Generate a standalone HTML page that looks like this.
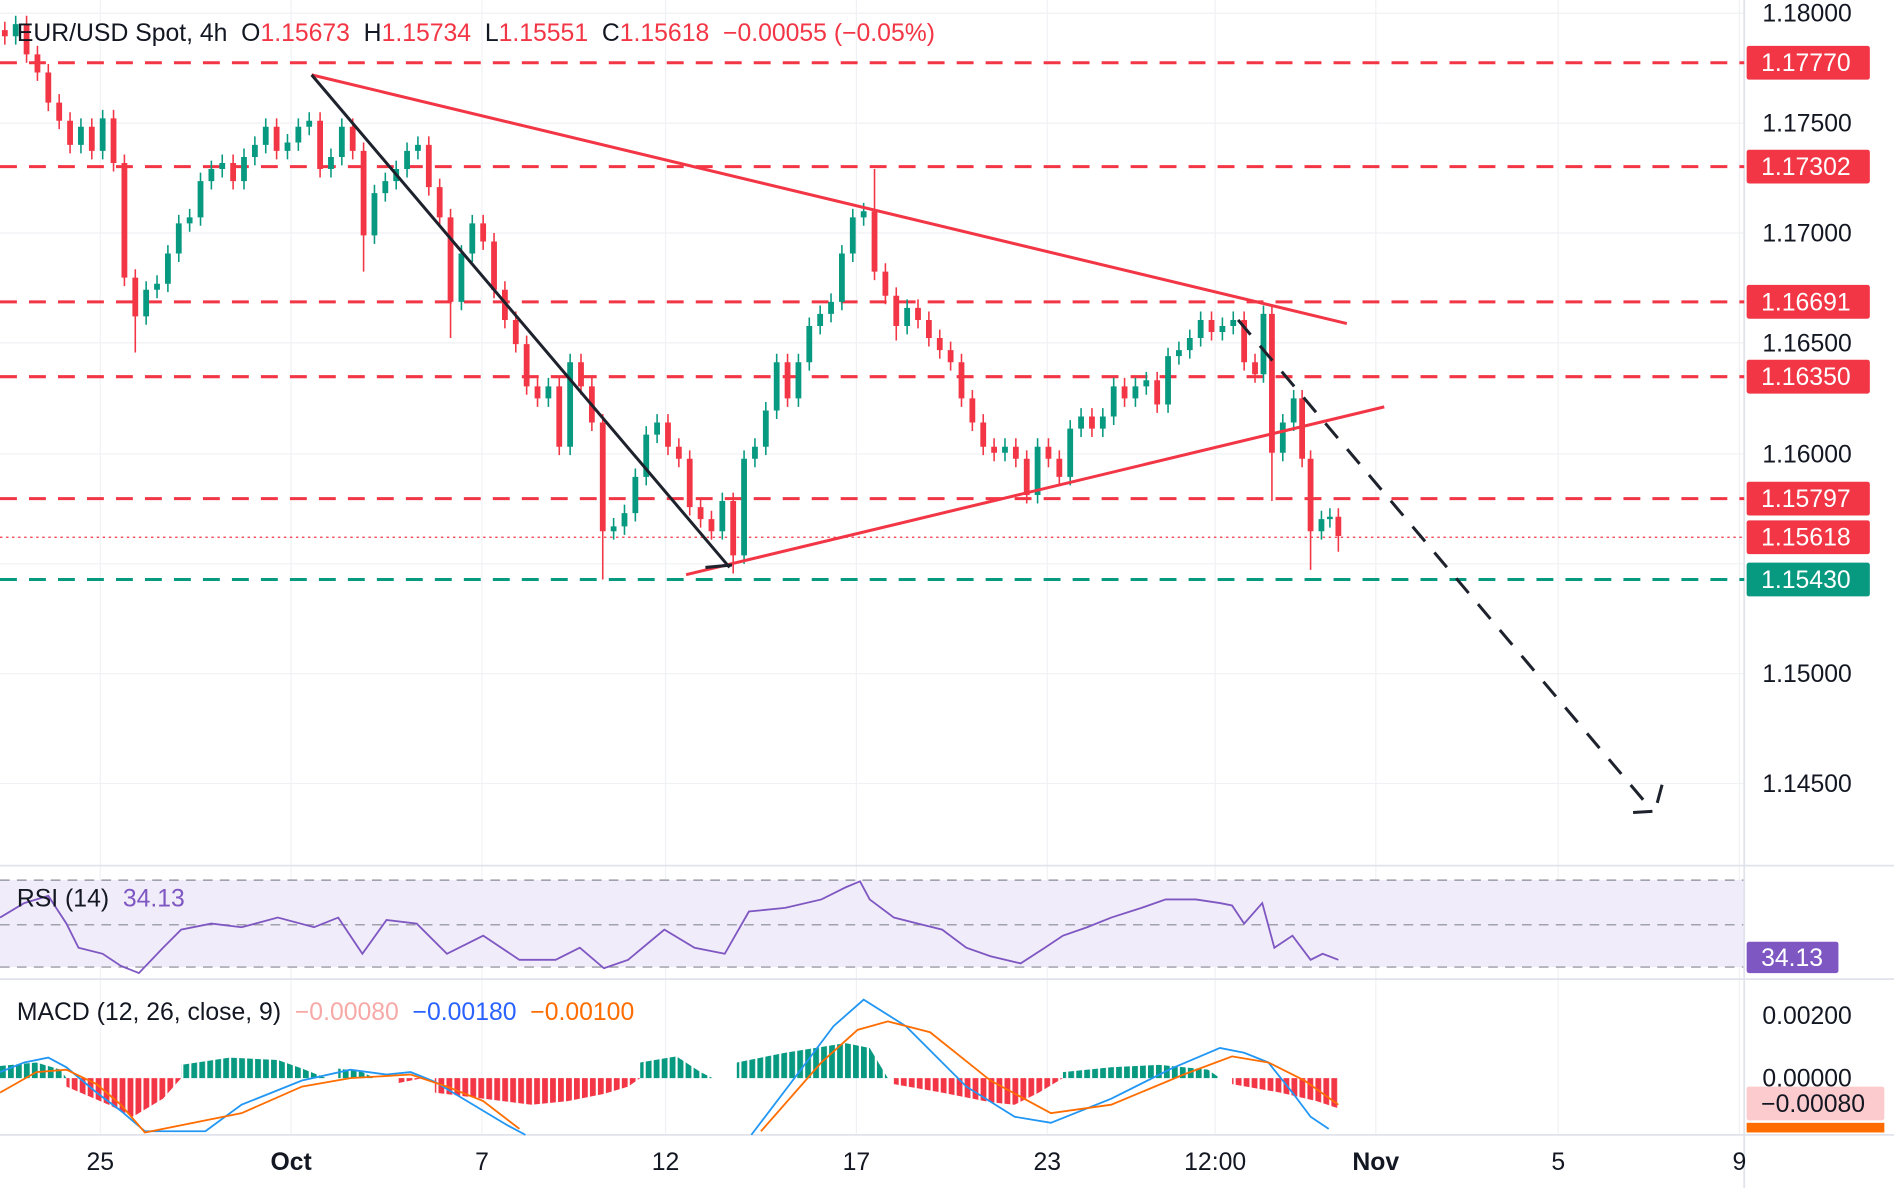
<!DOCTYPE html>
<html><head><meta charset="utf-8"><style>
html,body{margin:0;padding:0;background:#fff;}
svg{display:block;font-family:"Liberation Sans",sans-serif;}
</style></head><body>
<svg width="1894" height="1188" viewBox="0 0 1568 984" preserveAspectRatio="none" xmlns="http://www.w3.org/2000/svg">
<defs>
<pattern id="pg" width="6.6" height="10" patternUnits="userSpaceOnUse"><rect width="4.8" height="10" fill="#089981"/></pattern>
<pattern id="pr" width="6.6" height="10" patternUnits="userSpaceOnUse"><rect width="4.8" height="10" fill="#f23645"/></pattern>
</defs>
<rect width="1568" height="984" fill="#fff"/>
<g stroke="#f0f1f4" stroke-width="1">
<path d="M83 0V940M241 0V940M399 0V940M551 0V940M709 0V940M867 0V940M1006 0V940M1139 0V940M1290 0V940M1440 0V940"/>
<path d="M0 11H1444M0 102H1444M0 193H1444M0 284H1444M0 376H1444M0 467H1444M0 558H1444M0 649H1444"/>
</g>
<rect x="0" y="729" width="1444" height="72" fill="#f1ecf9"/>
<g stroke="#868993" stroke-dasharray="8,6" stroke-width="1">
<line x1="0" y1="729" x2="1444" y2="729"/><line x1="0" y1="766" x2="1444" y2="766"/><line x1="0" y1="801" x2="1444" y2="801"/>
</g>
<g stroke="#e0e3eb" stroke-width="1.5">
<line x1="0" y1="717" x2="1568" y2="717"/><line x1="0" y1="811" x2="1568" y2="811"/><line x1="0" y1="940" x2="1568" y2="940"/>
<line x1="1444" y1="0" x2="1444" y2="984"/>
</g>
<g stroke-width="2.5" stroke-dasharray="14,10">
<line x1="0" y1="52" x2="1444" y2="52" stroke="#f23645"/>
<line x1="0" y1="138" x2="1444" y2="138" stroke="#f23645"/>
<line x1="0" y1="250" x2="1444" y2="250" stroke="#f23645"/>
<line x1="0" y1="312" x2="1444" y2="312" stroke="#f23645"/>
<line x1="0" y1="413" x2="1444" y2="413" stroke="#f23645"/>
<line x1="0" y1="480" x2="1444" y2="480" stroke="#089981"/>
</g>
<line x1="0" y1="445" x2="1444" y2="445" stroke="#f23645" stroke-width="1" stroke-dasharray="2,3"/>
<g fill="none">
<path stroke="#089981" stroke-width="1.3" d="M13 13V37M67 98V127M85 91V132M121 233V269M130 228V247M139 203V242M148 178V217M157 173V192M166 143V187M175 133V157M184 128V147M202 123V157M211 113V137M220 98V127M238 111V132M247 98V125M256 93V112M274 123V147M283 98V137M310 153V202M319 143V167M328 133V157M337 118V147M346 113V132M382 203V257M391 178V217M454 313V337M472 293V377M508 429V447M517 418V443M526 388V432M535 353V402M544 343V367M598 408V447M616 373V467M625 363V387M634 333V377M643 293V347M661 293V337M670 263V307M679 253V277M688 243V267M697 203V257M706 173V217M715 168V187M751 248V277M832 363V382M859 363V417M886 348V402M895 338V362M913 338V362M922 313V352M940 313V337M949 308V327M967 288V342M976 283V302M985 273V297M994 258V287M1012 263V282M1021 258V277M1046 253V317M1062 343V382M1071 323V357M1094 423V447M1101 421V437"/>
<path stroke="#089981" stroke-width="4.8" d="M13 30V20M67 120V105M85 125V98M121 262V240M130 240V235M139 235V210M148 210V185M157 185V180M166 180V150M175 150V140M184 140V135M202 150V130M211 130V120M220 120V105M238 125V118M247 118V105M256 105V100M274 140V130M283 130V105M310 195V160M319 160V150M328 150V140M337 140V125M346 125V120M382 250V210M391 210V185M454 330V320M472 370V300M508 440V436M517 436V425M526 425V395M535 395V360M544 360V350M598 440V415M616 460V380M625 380V370M634 370V340M643 340V300M661 330V300M670 300V270M679 270V260M688 260V250M697 250V210M706 210V180M715 180V175M751 270V255M832 375V370M859 410V370M886 395V355M895 355V345M913 355V345M922 345V320M940 330V320M949 320V315M967 335V295M976 295V290M985 290V280M994 280V265M1012 275V270M1021 270V265M1046 310V260M1062 375V350M1071 350V330M1094 440V430M1101 430V428"/>
<path stroke="#f23645" stroke-width="1.3" d="M4 18V37M22 13V52M31 38V67M40 53V92M49 78V107M58 93V127M76 98V132M94 91V142M103 128V237M112 223V292M193 128V157M229 98V132M265 93V147M292 98V132M301 118V225M355 113V162M364 148V187M373 173V280M400 178V207M409 193V247M418 233V272M427 258V292M436 278V327M445 313V337M463 313V377M481 293V327M490 313V357M499 343V480M553 343V377M562 363V387M571 373V427M580 413V437M589 423V447M607 408V475M652 293V337M724 140V232M733 218V252M742 238V282M760 248V272M769 258V287M778 273V297M787 283V307M796 293V337M805 323V357M814 343V377M823 363V382M841 363V387M850 373V417M868 363V387M877 373V402M904 338V362M931 313V337M958 308V342M1003 258V282M1030 258V307M1039 293V317M1053 253V415M1078 323V387M1085 373V472M1108 421V457"/>
<path stroke="#f23645" stroke-width="4.8" d="M4 25V30M22 20V45M31 45V60M40 60V85M49 85V100M58 100V120M76 105V125M94 98V135M103 135V230M112 230V262M193 135V150M229 105V125M265 100V140M292 105V125M301 125V195M355 120V155M364 155V180M373 180V250M400 185V200M409 200V240M418 240V265M427 265V285M436 285V320M445 320V330M463 320V370M481 300V320M490 320V350M499 350V440M553 350V370M562 370V380M571 380V420M580 420V430M589 430V440M607 415V460M652 300V330M724 175V225M733 225V245M742 245V270M760 255V265M769 265V280M778 280V290M787 290V300M796 300V330M805 330V350M814 350V370M823 370V375M841 370V380M850 380V410M868 370V380M877 380V395M904 345V355M931 320V330M958 315V335M1003 265V275M1030 265V300M1039 300V310M1053 260V375M1078 330V380M1085 380V440M1108 428V444"/>
</g>
<g stroke="#f23645" stroke-width="2.5" fill="none">
<line x1="258" y1="62" x2="1115" y2="268"/>
<line x1="568" y1="476" x2="1146" y2="337"/>
</g>
<g stroke="#1e222d" stroke-width="2.5" fill="none">
<line x1="258" y1="62" x2="604" y2="470"/>
<line x1="584" y1="470" x2="606" y2="468"/>
<line x1="1025" y1="265" x2="1365" y2="668" stroke-dasharray="16,12"/>
<line x1="1352" y1="673" x2="1368" y2="672"/>
<line x1="1376" y1="650" x2="1372" y2="665"/>
</g>
<polyline fill="none" stroke="#7e57c2" stroke-width="1.5" points="0,760 20,748 40,742 55,765 65,785 85,790 100,800 115,806 135,785 150,770 175,765 200,768 230,760 260,768 280,760 300,790 320,762 345,765 370,790 400,775 430,795 460,795 480,785 500,802 520,795 550,770 575,785 600,790 620,755 650,752 680,745 700,735 712,730 720,745 740,760 760,765 780,770 800,785 820,792 845,798 865,785 880,775 900,768 920,760 945,752 965,745 990,745 1010,748 1020,750 1030,765 1045,748 1055,785 1070,775 1085,795 1095,790 1108,795"/>
<path fill="url(#pg)" d="M0 893V883L30 880L50 886L55 893ZM150 893V882L190 876L230 878L250 885L270 893ZM280 893V885L300 888L310 893ZM530 893V880L560 875L580 888L590 893ZM610 893V880L650 872L700 864L720 868L735 893ZM880 893V888L920 884L960 882L1000 886L1010 893Z"/>
<path fill="url(#pr)" d="M55 893V900L90 915L110 925L135 910L150 893ZM330 893V897L350 893ZM360 893V905L400 910L440 915L470 912L500 906L520 900L530 893ZM740 893V898L780 905L820 913L840 915L860 905L880 893ZM1020 893V898L1060 905L1090 912L1108 918V893Z"/>
<polyline fill="none" stroke="#2196f3" stroke-width="1.5" points="0,888 20,880 40,876 55,884 80,905 100,920 120,937 170,937 200,915 250,895 290,886 320,890 340,888 360,896 380,908 420,932 435,940"/>
<polyline fill="none" stroke="#2196f3" stroke-width="1.5" points="622,940 660,890 690,850 715,828 750,850 800,900 840,925 870,930 920,910 970,885 1010,868 1030,872 1050,880 1070,905 1085,925 1100,935"/>
<polyline fill="none" stroke="#ff6d00" stroke-width="1.5" points="0,905 30,888 55,886 80,898 100,915 120,938 200,922 250,900 290,893 340,890 370,900 400,912 430,935"/>
<polyline fill="none" stroke="#ff6d00" stroke-width="1.5" points="630,937 680,880 710,853 735,846 770,855 820,895 870,922 920,915 980,890 1020,875 1050,880 1080,895 1108,915"/>
<g font-size="20.5">
<rect x="1446" y="38" width="102" height="28" rx="2" fill="#f23645"/><text x="1458" y="59" fill="#fff">1.17770</text>
<rect x="1446" y="124" width="102" height="28" rx="2" fill="#f23645"/><text x="1458" y="145" fill="#fff">1.17302</text>
<rect x="1446" y="236" width="102" height="28" rx="2" fill="#f23645"/><text x="1458" y="257" fill="#fff">1.16691</text>
<rect x="1446" y="298" width="102" height="28" rx="2" fill="#f23645"/><text x="1458" y="319" fill="#fff">1.16350</text>
<rect x="1446" y="399" width="102" height="28" rx="2" fill="#f23645"/><text x="1458" y="420" fill="#fff">1.15797</text>
<rect x="1446" y="431" width="102" height="28" rx="2" fill="#f23645"/><text x="1458" y="452" fill="#fff">1.15618</text>
<rect x="1446" y="466" width="102" height="28" rx="2" fill="#089981"/><text x="1458" y="487" fill="#fff">1.15430</text>
</g>
<g font-size="20.5" fill="#131722">
<text x="14" y="34">EUR/USD Spot, 4h &#160;O<tspan fill="#f23645">1.15673</tspan> &#160;H<tspan fill="#f23645">1.15734</tspan> &#160;L<tspan fill="#f23645">1.15551</tspan> &#160;C<tspan fill="#f23645">1.15618</tspan> &#160;<tspan fill="#f23645">&#8722;0.00055 (&#8722;0.05%)</tspan></text>
<text x="14" y="751">RSI (14) &#160;<tspan fill="#7e57c2">34.13</tspan></text>
<text x="14" y="845">MACD (12, 26, close, 9) &#160;<tspan fill="#f7a9a7">&#8722;0.00080</tspan> &#160;<tspan fill="#2962ff">&#8722;0.00180</tspan> &#160;<tspan fill="#ff6d00">&#8722;0.00100</tspan></text>
</g>
<g font-size="20.5" fill="#131722" text-anchor="middle">
<text x="83" y="969">25</text><text x="241" y="969" font-weight="bold">Oct</text><text x="399" y="969">7</text><text x="551" y="969">12</text><text x="709" y="969">17</text><text x="867" y="969">23</text><text x="1006" y="969">12:00</text><text x="1139" y="969" font-weight="bold">Nov</text><text x="1290" y="969">5</text><text x="1440" y="969">9</text>
</g>
<g font-size="20.5" fill="#131722">
<text x="1459" y="18">1.18000</text><text x="1459" y="109">1.17500</text><text x="1459" y="200">1.17000</text><text x="1459" y="291">1.16500</text><text x="1459" y="383">1.16000</text><text x="1459" y="565">1.15000</text><text x="1459" y="656">1.14500</text>
<text x="1459" y="848">0.00200</text><text x="1459" y="900">0.00000</text>
</g>
<rect x="1446" y="780" width="76" height="26" rx="2" fill="#7e57c2"/><text x="1458" y="800" font-size="20.5" fill="#fff">34.13</text>
<rect x="1446" y="900" width="114" height="28" rx="2" fill="#fccbcd"/><text x="1458" y="921" font-size="20.5" fill="#131722">&#8722;0.00080</text>
<rect x="1446" y="930" width="114" height="8" fill="#ff6d00"/>
</svg>
</body></html>
